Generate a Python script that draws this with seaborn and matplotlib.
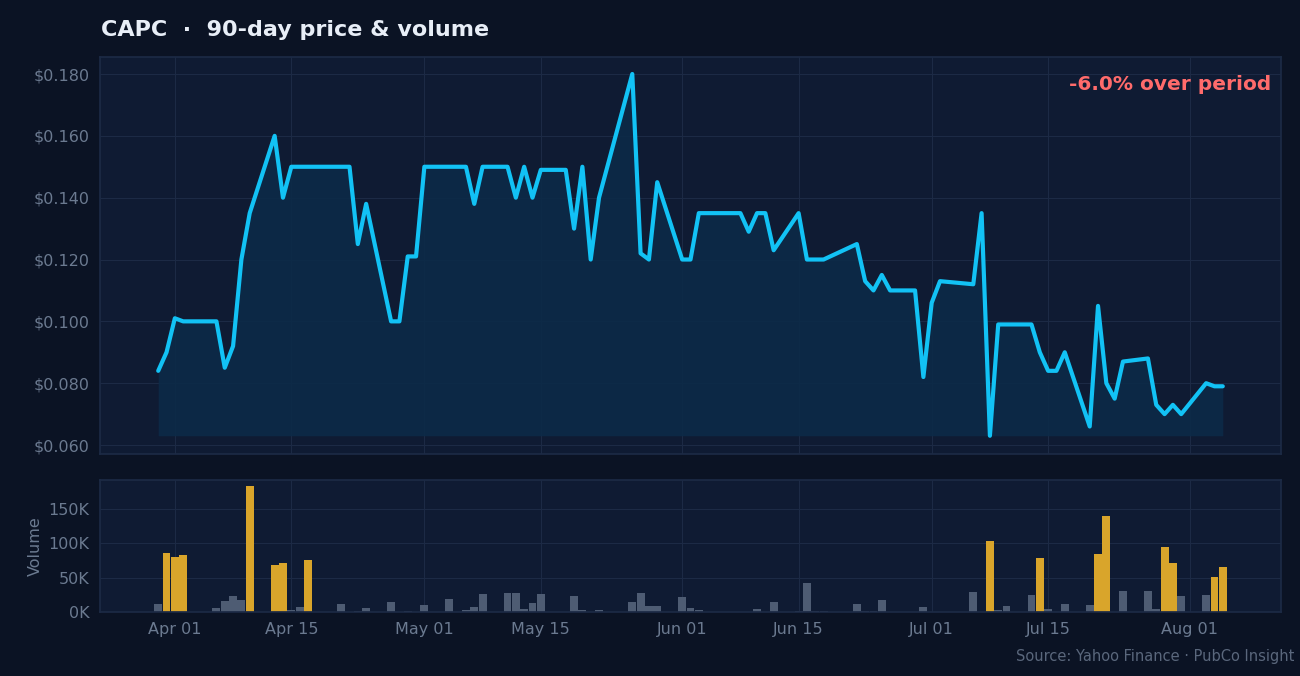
import matplotlib
matplotlib.use("Agg")
import matplotlib.pyplot as plt
import matplotlib.dates as mdates
import seaborn as sns
import pandas as pd

price_dates = ["2026-03-30","2026-03-31","2026-04-01","2026-04-02","2026-04-06","2026-04-07","2026-04-08","2026-04-09","2026-04-10",
 "2026-04-13","2026-04-14","2026-04-15","2026-04-22","2026-04-23","2026-04-24","2026-04-27","2026-04-28","2026-04-29","2026-04-30",
 "2026-05-01","2026-05-06","2026-05-07","2026-05-08","2026-05-11","2026-05-12","2026-05-13","2026-05-14","2026-05-15","2026-05-18",
 "2026-05-19","2026-05-20","2026-05-21","2026-05-22","2026-05-26","2026-05-27","2026-05-28","2026-05-29","2026-06-01","2026-06-02",
 "2026-06-03","2026-06-08","2026-06-09","2026-06-10","2026-06-11","2026-06-12","2026-06-15","2026-06-16","2026-06-18","2026-06-22",
 "2026-06-23","2026-06-24","2026-06-25","2026-06-26","2026-06-29","2026-06-30","2026-07-01","2026-07-02","2026-07-06","2026-07-07",
 "2026-07-08","2026-07-09","2026-07-13","2026-07-14","2026-07-15","2026-07-16","2026-07-17","2026-07-20","2026-07-21","2026-07-22",
 "2026-07-23","2026-07-24","2026-07-27","2026-07-28","2026-07-29","2026-07-30","2026-07-31","2026-08-03","2026-08-04","2026-08-05"]
prices = [0.084,0.090,0.101,0.100,0.100,0.085,0.092,0.120,0.135,
 0.160,0.140,0.150,0.150,0.125,0.138,0.100,0.100,0.121,0.121,
 0.150,0.150,0.138,0.150,0.150,0.140,0.150,0.140,0.149,0.149,
 0.130,0.150,0.120,0.140,0.180,0.122,0.120,0.145,0.120,0.120,
 0.135,0.135,0.129,0.135,0.135,0.123,0.135,0.120,0.120,0.125,
 0.113,0.110,0.115,0.110,0.110,0.082,0.106,0.113,0.112,0.135,
 0.063,0.099,0.099,0.090,0.084,0.084,0.090,0.066,0.105,0.080,
 0.075,0.087,0.088,0.073,0.070,0.073,0.070,0.080,0.079,0.079]

vol_dates = ["2026-03-30","2026-03-31","2026-04-01","2026-04-02","2026-04-06","2026-04-07","2026-04-08","2026-04-09","2026-04-10",
 "2026-04-13","2026-04-14","2026-04-15","2026-04-16","2026-04-17","2026-04-21","2026-04-23","2026-04-24","2026-04-27","2026-04-29",
 "2026-05-01","2026-05-04","2026-05-06","2026-05-07","2026-05-08","2026-05-11","2026-05-12","2026-05-13","2026-05-14","2026-05-15",
 "2026-05-19","2026-05-20","2026-05-22","2026-05-26","2026-05-27","2026-05-28","2026-05-29","2026-06-01","2026-06-02","2026-06-03",
 "2026-06-10","2026-06-12","2026-06-15","2026-06-16","2026-06-17","2026-06-18","2026-06-22","2026-06-23","2026-06-24","2026-06-25",
 "2026-06-30","2026-07-06","2026-07-08","2026-07-09","2026-07-10","2026-07-13","2026-07-14","2026-07-15","2026-07-17","2026-07-20",
 "2026-07-21","2026-07-22","2026-07-24","2026-07-27","2026-07-28","2026-07-29","2026-07-30","2026-07-31","2026-08-03","2026-08-04","2026-08-05"]
volumes = [12,86,80,83,6,16,23,18,184,
 69,72,3,7,76,11,2,6,14,2,
 10,19,3,7,26,27,27,5,13,26,
 23,3,3,15,27,9,9,22,6,3,
 5,14,2,42,1,1,12,2,2,18,
 8,29,104,3,9,25,78,4,11,10,
 84,139,31,30,5,94,72,24,25,51,65]
volumes = [v * 1000 for v in volumes]

BG = "#0b1324"; AX = "#0f1b33"; GRID = "#1c2a45"; TXT = "#6b7a90"
sns.set_theme(style="dark")
plt.rcParams["font.family"] = ["DejaVu Sans"]

pdf = pd.DataFrame({"date": pd.to_datetime(price_dates), "price": prices})
vdf = pd.DataFrame({"date": pd.to_datetime(vol_dates), "vol": volumes})

fig = plt.figure(figsize=(13, 6.76), dpi=100, facecolor=BG)
ax1 = fig.add_axes([100/1300, 1-454/676, 1181/1300, 397/676])
ax2 = fig.add_axes([100/1300, 1-612/676, 1181/1300, 132/676], sharex=ax1)

for ax in (ax1, ax2):
    ax.set_facecolor(AX)
    ax.grid(True, color=GRID, linewidth=0.8)
    for s in ax.spines.values():
        s.set_color(GRID)
    ax.tick_params(colors=TXT, labelsize=11.5, length=4)

base = min(prices)
ax1.fill_between(pdf["date"], pdf["price"], base, color="#0c2a48", alpha=0.9, linewidth=0)
sns.lineplot(data=pdf, x="date", y="price", ax=ax1, color="#12c2f5", linewidth=3)
ax1.set_ylim(0.0571, 0.1855)
ax1.set_yticks([0.06, 0.08, 0.10, 0.12, 0.14, 0.16, 0.18])
ax1.yaxis.set_major_formatter(matplotlib.ticker.FuncFormatter(lambda v, p: f"${v:.3f}"))
ax1.set_xlabel(""); ax1.set_ylabel("")
ax1.tick_params(labelbottom=False)
ax1.text(0.992, 0.955, "-6.0% over period", transform=ax1.transAxes, ha="right", va="top",
         color="#ff6b6b", fontsize=14.5, fontweight="bold")

colors = ["#d9a52b" if v >= 50000 else "#4e5c73" for v in volumes]
ax2.bar(vdf["date"], vdf["vol"], width=0.95, color=colors, linewidth=0)
ax2.set_ylim(0, 192000)
ax2.set_yticks([0, 50000, 100000, 150000])
ax2.yaxis.set_major_formatter(matplotlib.ticker.FuncFormatter(lambda v, p: f"{int(v/1000)}K"))
ax2.set_ylabel("Volume", color=TXT, fontsize=11.5)
ax2.set_xlabel("")
ax2.xaxis.set_major_locator(mdates.DayLocator(bymonthday=[1, 15]))
ax2.xaxis.set_major_formatter(mdates.DateFormatter("%b %d"))
ax2.set_xlim(pd.Timestamp("2026-03-23"), pd.Timestamp("2026-08-12"))

fig.text(101/1300, 1-30/676, "CAPC  ·  90-day price & volume", color="#e8eef7", fontsize=16,
         fontweight="bold", va="center")
fig.text(1294/1300, 1-657/676, "Source: Yahoo Finance · PubCo Insight", color="#5a677c",
         fontsize=10.5, ha="right", va="center")

fig.savefig("out.png", dpi=100, facecolor=BG)
